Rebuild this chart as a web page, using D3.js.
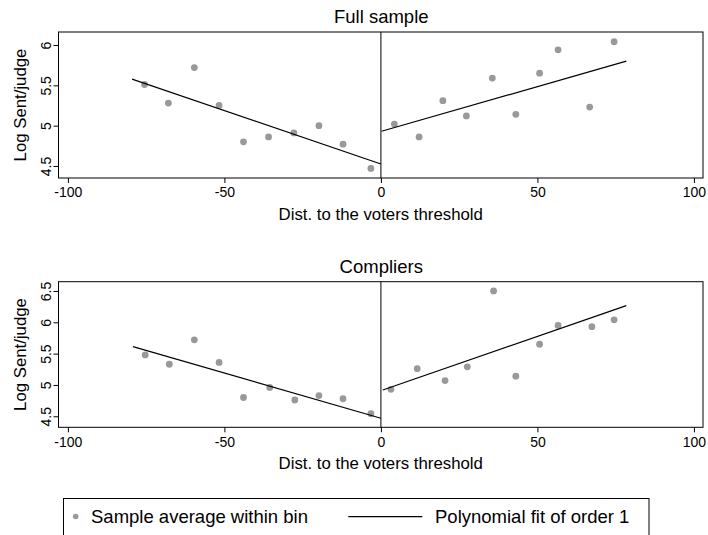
<!DOCTYPE html>
<html>
<head>
<meta charset="utf-8">
<script src="https://cdn.jsdelivr.net/npm/d3@7.9.0/dist/d3.min.js"></script>
<style>
  body { margin: 0; background: #fff; }
  svg { display: block; font-family: "Liberation Sans", Arial, sans-serif; }
</style>
</head>
<body>
<div id="chart"></div>
<script>
// bin averages
const fullLeft = [
  [-75.5, 5.51], [-67.9, 5.28], [-59.6, 5.72], [-51.7, 5.25], [-43.9, 4.80],
  [-35.9, 4.86], [-27.8, 4.91], [-19.8, 5.00], [-12.1, 4.77], [-3.2, 4.47]
];
const fullRight = [
  [4.3, 5.02], [12.2, 4.86], [19.8, 5.31], [27.3, 5.12], [35.6, 5.59],
  [43.1, 5.14], [50.7, 5.65], [56.6, 5.94], [66.7, 5.23], [74.5, 6.04]
];
const compLeft = [
  [-75.3, 5.48], [-67.6, 5.33], [-59.6, 5.72], [-51.7, 5.36], [-43.9, 4.80],
  [-35.5, 4.96], [-27.5, 4.76], [-19.8, 4.83], [-12.1, 4.78], [-3.2, 4.54]
];
const compRight = [
  [3.2, 4.93], [11.6, 5.26], [20.5, 5.07], [27.6, 5.29], [36.0, 6.50],
  [43.1, 5.14], [50.7, 5.65], [56.6, 5.95], [67.4, 5.93], [74.5, 6.04]
];

// fitted lines (endpoints)
const fullFitLeft = [[-79.5, 5.576], [0, 4.525]];
const fullFitRight = [[0.2, 4.93], [78.4, 5.80]];
const compFitLeft = [[-79.2, 5.612], [0, 4.468]];
const compFitRight = [[0.6, 4.92], [78.4, 6.267]];

const xTicks = [-100, -50, 0, 50, 100];
const fullYTicks = [4.5, 5, 5.5, 6];
const compYTicks = [4.5, 5, 5.5, 6, 6.5];

const panelTitles = ['Full sample', 'Compliers'];
const xTitle = 'Dist. to the voters threshold';
const yTitle = 'Log Sent/judge';
const legendLabels = ['Sample average within bin', 'Polynomial fit of order 1'];

const width = 708, height = 535;
const left = 58.5, right = 703;
const dotColor = '#999999';

const svg = d3.select('#chart').append('svg')
  .attr('width', width).attr('height', height);

const x = d3.scaleLinear().domain([-103, 102.9]).range([left, right]);

function drawPanel(cfg) {
  const y = d3.scaleLinear().domain(cfg.yDomain).range([cfg.bottom, cfg.top]);
  const g = svg.append('g');

  // title
  g.append('text')
    .attr('x', (left + right) / 2 + 0.5).attr('y', cfg.top - 9)
    .attr('text-anchor', 'middle')
    .style('font-size', '18.5px')
    .text(cfg.title);

  // x axis
  const xa = g.append('g')
    .attr('transform', `translate(0,${cfg.bottom})`)
    .call(d3.axisBottom(x).tickValues(xTicks).tickFormat(d => String(d))
      .tickSize(5).tickSizeOuter(0).tickPadding(4.5));
  xa.select('.domain').remove();
  xa.selectAll('text').style('font-size', '14px').attr('fill', '#000');

  // y axis
  const ya = g.append('g')
    .attr('transform', `translate(${left},0)`)
    .call(d3.axisLeft(y).tickValues(cfg.yTicks).tickFormat(d => String(d))
      .tickSize(5).tickSizeOuter(0));
  ya.select('.domain').remove();
  ya.selectAll('text')
    .attr('transform', 'rotate(-90)')
    .attr('x', 0).attr('y', -8).attr('dy', 0)
    .attr('text-anchor', 'middle')
    .attr('fill', '#000')
    .style('font-size', '14px');

  // axis titles
  g.append('text')
    .attr('x', (left + right) / 2).attr('y', cfg.bottom + 42)
    .attr('text-anchor', 'middle')
    .style('font-size', '16.8px')
    .text(xTitle);
  g.append('text')
    .attr('transform', `translate(25.5,${(cfg.top + cfg.bottom) / 2}) rotate(-90)`)
    .attr('text-anchor', 'middle')
    .style('font-size', '16.8px')
    .text(yTitle);

  // frame
  g.append('rect')
    .attr('x', left).attr('y', cfg.top)
    .attr('width', right - left).attr('height', cfg.bottom - cfg.top)
    .attr('fill', 'none').attr('stroke', '#000').attr('stroke-width', 1);

  // threshold line
  g.append('line')
    .attr('x1', x(0)).attr('x2', x(0))
    .attr('y1', cfg.top).attr('y2', cfg.bottom)
    .attr('stroke', '#000').attr('stroke-width', 1);

  // bin averages
  g.append('g').selectAll('circle')
    .data(cfg.points)
    .join('circle')
    .attr('cx', d => x(d[0]))
    .attr('cy', d => y(d[1]))
    .attr('r', 3.4)
    .attr('fill', dotColor);

  // fits
  const line = d3.line().x(d => x(d[0])).y(d => y(d[1]));
  cfg.fits.forEach(f => {
    g.append('path')
      .attr('d', line(f))
      .attr('fill', 'none')
      .attr('stroke', '#000')
      .attr('stroke-width', 1.2);
  });
}

drawPanel({
  title: panelTitles[0],
  top: 32, bottom: 178,
  yDomain: [4.351, 6.161],
  yTicks: fullYTicks,
  points: fullLeft.concat(fullRight),
  fits: [fullFitLeft, fullFitRight]
});

drawPanel({
  title: panelTitles[1],
  top: 281.7, bottom: 427.3,
  yDomain: [4.324, 6.648],
  yTicks: compYTicks,
  points: compLeft.concat(compRight),
  fits: [compFitLeft, compFitRight]
});

// legend
const lg = svg.append('g');
lg.append('rect')
  .attr('x', 63.5).attr('y', 498.5)
  .attr('width', 585.5).attr('height', 60)
  .attr('fill', 'none').attr('stroke', '#000').attr('stroke-width', 1);
lg.append('circle')
  .attr('cx', 75.7).attr('cy', 516.5).attr('r', 2.8)
  .attr('fill', dotColor);
lg.append('text')
  .attr('x', 91).attr('y', 523)
  .style('font-size', '18.5px')
  .text(legendLabels[0]);
lg.append('line')
  .attr('x1', 348.3).attr('x2', 422.3)
  .attr('y1', 516.7).attr('y2', 516.7)
  .attr('stroke', '#000').attr('stroke-width', 1.2);
lg.append('text')
  .attr('x', 435).attr('y', 523)
  .style('font-size', '18.5px')
  .text(legendLabels[1]);
</script>
</body>
</html>
